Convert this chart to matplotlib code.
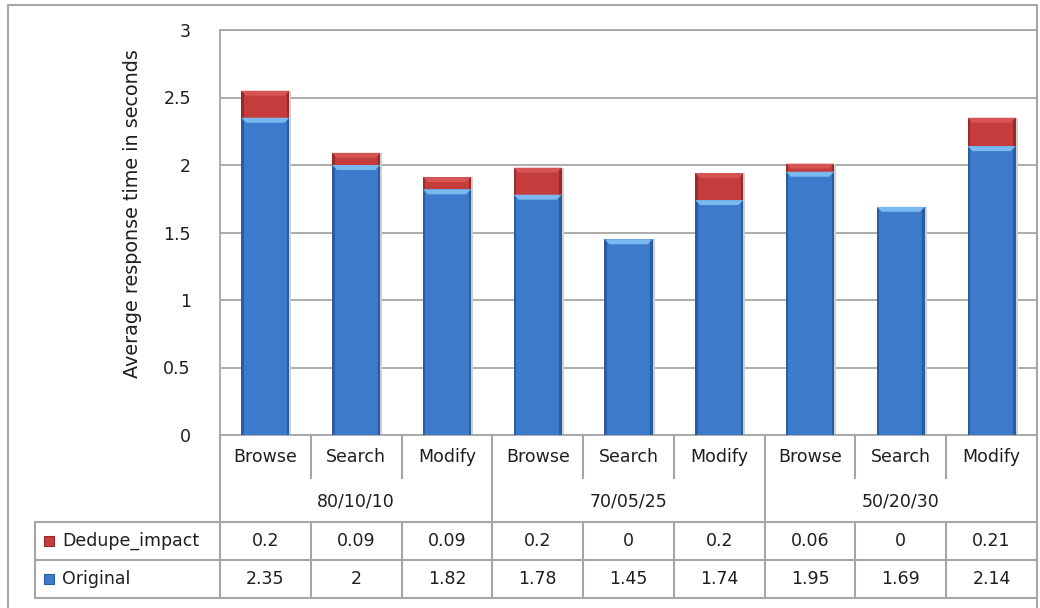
import matplotlib
matplotlib.use("Agg")
import matplotlib.pyplot as plt
from matplotlib.patches import Rectangle, Polygon
from matplotlib.transforms import blended_transform_factory

# ---- data ----
categories = ["Browse", "Search", "Modify", "Browse", "Search", "Modify",
              "Browse", "Search", "Modify"]
groups = ["80/10/10", "70/05/25", "50/20/30"]
series_names = ["Dedupe_impact", "Original"]
original = [2.35, 2, 1.82, 1.78, 1.45, 1.74, 1.95, 1.69, 2.14]
dedupe_impact = [0.2, 0.09, 0.09, 0.2, 0, 0.2, 0.06, 0, 0.21]
y_ticks = [0, 0.5, 1, 1.5, 2, 2.5, 3]
y_label = "Average response time in seconds"

# ---- style ----
W, H = 1040, 608
FONT = "DejaVu Sans"
FS = 12.5
TXT = "#1e1e1e"
GRID = "#a6a6a6"
BLUE = dict(body="#3c7bcb", edge="#2b5d9e", top="#7ab8f0")
RED = dict(body="#c43c3c", edge="#972a2a", top="#d65454")
BAR_W = 0.53

plt.rcParams["font.family"] = FONT
fig = plt.figure(figsize=(W / 100, H / 100), dpi=100)
fig.patch.set_facecolor("white")

# pixel-space overlay for borders and the data table
ov = fig.add_axes([0, 0, 1, 1], zorder=0)
ov.set_xlim(0, W)
ov.set_ylim(H, 0)
ov.axis("off")

plot_left, plot_right, plot_top, plot_bottom = 220, 1037, 30, 435
ax = fig.add_axes([plot_left / W, (H - plot_bottom) / H,
                   (plot_right - plot_left) / W, (plot_bottom - plot_top) / H],
                  zorder=2)
ax.set_facecolor("none")
n = len(categories)
ax.set_xlim(-0.5, n - 0.5)
ax.set_ylim(0, 3)
ax.set_yticks(y_ticks)
ax.set_yticklabels([f"{t:g}" for t in y_ticks], fontsize=FS, color=TXT)
ax.tick_params(axis="y", length=0, pad=21)
ax.set_xticks([])
ax.grid(axis="y", color=GRID, linewidth=1.3, zorder=0)
ax.set_axisbelow(True)
for s in ax.spines.values():
    s.set_color(GRID)
    s.set_linewidth(1.3)

# pixel -> data scale factors
px_x = n / (plot_right - plot_left)
px_y = 3.0 / (plot_bottom - plot_top)


def bevel_segment(x, bottom, height, pal):
    if height <= 0:
        return
    x0, x1 = x - BAR_W / 2, x + BAR_W / 2
    y0, y1 = bottom, bottom + height
    ax.add_patch(Rectangle((x0, y0), BAR_W, height, facecolor=pal["body"],
                           edgecolor="none", zorder=3))
    # darker sides
    ew = 2.5 * px_x
    ax.add_patch(Rectangle((x0, y0), ew, height, facecolor=pal["edge"],
                           edgecolor="none", zorder=4))
    ax.add_patch(Rectangle((x1 - ew, y0), ew, height, facecolor=pal["edge"],
                           edgecolor="none", zorder=4))
    # lighter bevelled top
    th = min(5 * px_y, height)
    inset = 5 * px_x
    ax.add_patch(Polygon([(x0, y1), (x1, y1), (x1 - inset, y1 - th),
                          (x0 + inset, y1 - th)], closed=True,
                         facecolor=pal["top"], edgecolor="none", zorder=5))
    # soft shadow to the right
    ax.add_patch(Rectangle((x1, y0), 2 * px_x, height, facecolor="#cfcfcf",
                           edgecolor="none", zorder=2.5))


xs = list(range(n))
for i in xs:
    bevel_segment(i, 0, original[i], BLUE)
    bevel_segment(i, original[i], dedupe_impact[i], RED)

fig.text(133 / W, 1 - 214 / H, y_label, rotation=90, ha="center",
         va="center", fontsize=13.8, color=TXT)

# ---- data table ----
tr = blended_transform_factory(ax.transData, ov.transData)
lw = 1.5
row_cat = (435, 478)
row_grp_bottom = 522
row_ded = (522, 560)
row_org = (560, 598)
legend_left = 35


def hline(y, x0, x1):
    ov.plot([x0, x1], [y, y], color=GRID, lw=lw, clip_on=False, zorder=1)


def vline(x, y0, y1, transform=None):
    ov.plot([x, x], [y0, y1], color=GRID, lw=lw, clip_on=False, zorder=1,
            transform=transform if transform is not None else ov.transData)


# outer chart border
ov.plot([8, 8, plot_right, plot_right], [H + 5, 5, 5, H + 5], color=GRID,
        lw=lw, clip_on=False)

hline(row_grp_bottom, legend_left, plot_right)
hline(row_ded[1], legend_left, plot_right)
hline(row_org[1], legend_left, plot_right)
vline(legend_left, row_ded[0], row_org[1])
vline(plot_left, plot_bottom, row_org[1])

for i in range(1, n):
    xb = i - 0.5
    if i % 3 == 0:
        vline(xb, plot_bottom, row_org[1], transform=tr)
    else:
        vline(xb, plot_bottom, row_cat[1], transform=tr)
        vline(xb, row_ded[0], row_org[1], transform=tr)

for i, c in enumerate(categories):
    ov.text(i, (row_cat[0] + row_cat[1]) / 2 + 1, c, transform=tr,
            ha="center", va="center", fontsize=FS, color=TXT)
    ov.text(i, (row_ded[0] + row_ded[1]) / 2, f"{dedupe_impact[i]:g}",
            transform=tr, ha="center", va="center", fontsize=FS, color=TXT)
    ov.text(i, (row_org[0] + row_org[1]) / 2, f"{original[i]:g}",
            transform=tr, ha="center", va="center", fontsize=FS, color=TXT)

for g, name in enumerate(groups):
    ov.text(g * 3 + 1, (row_cat[1] + row_grp_bottom) / 2 + 1, name,
            transform=tr, ha="center", va="center", fontsize=FS, color=TXT)

# legend keys inside the table
for (r0, r1), name, pal in [(row_ded, series_names[0], RED),
                            (row_org, series_names[1], BLUE)]:
    yc = (r0 + r1) / 2
    ov.add_patch(Rectangle((44, yc - 5), 10, 10, facecolor=pal["body"],
                           edgecolor=pal["edge"], lw=0.8, clip_on=False))
    ov.text(62, yc, name, ha="left", va="center", fontsize=FS, color=TXT)

fig.savefig("out.png", dpi=100, facecolor="white")
